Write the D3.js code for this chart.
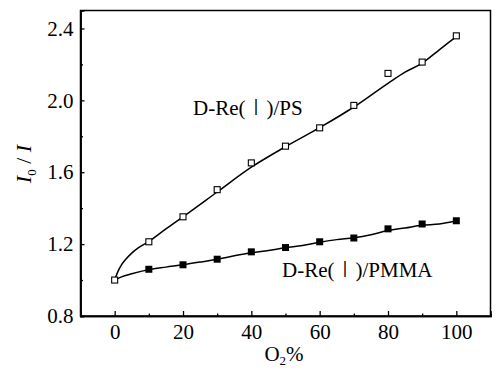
<!DOCTYPE html>
<html><head><meta charset="utf-8">
<script src="https://cdn.jsdelivr.net/npm/d3@7"></script>
<style>
html,body{margin:0;padding:0;background:#fff;}
svg{display:block;}
text{font-family:"Liberation Serif","Times New Roman",serif;fill:#000;}
</style></head>
<body>
<script>
// ---- data ----
const o2 = [0, 10, 20, 30, 40, 50, 60, 70, 80, 90, 100];
const psValues = [1.0, 1.213, 1.352, 1.503, 1.652, 1.745, 1.847, 1.972, 2.150, 2.213, 2.359];
const pmmaValues = [1.0, 1.060, 1.085, 1.116, 1.157, 1.181, 1.213, 1.234, 1.285, 1.312, 1.330];
const psFitX = [0, 1, 2, 3, 5, 7, 10, 15, 20, 30, 40, 50, 60, 70, 80, 85, 90, 95, 100];
const psFitY = [1.0, 1.05, 1.085, 1.11, 1.15, 1.18, 1.215, 1.285, 1.352, 1.49, 1.628, 1.742, 1.848, 1.963, 2.095, 2.157, 2.207, 2.281, 2.355];
const pmmaFitX = [0, 2, 5, 10, 15, 20, 25, 30, 35, 40, 45, 50, 55, 60, 65, 70, 75, 80, 85, 90, 95, 100];
const pmmaFitY = [1.0, 1.018, 1.035, 1.058, 1.072, 1.085, 1.1, 1.116, 1.135, 1.152, 1.165, 1.18, 1.192, 1.21, 1.225, 1.235, 1.252, 1.276, 1.29, 1.305, 1.312, 1.33];
const xTicks = [0, 20, 40, 60, 80, 100];
const xMinor = [10, 30, 50, 70, 90];
const yTicks = [0.8, 1.2, 1.6, 2.0, 2.4];
const yMinor = [1.0, 1.4, 1.8, 2.2];
const labelPS = "D-Re(Ⅰ)/PS";
const labelPMMA = "D-Re(Ⅰ)/PMMA";

const W = 497, H = 370;
const L = 80.5, R = 490.5, T = 10.5, B = 316;
const svg = d3.select("body").append("svg").attr("width", W).attr("height", H);
const x = d3.scaleLinear().domain([-10, 110]).range([L, R]);
const y = d3.scaleLinear().domain([0.8, 2.5]).range([B, T]);

// frame
svg.append("rect").attr("x", L).attr("y", T).attr("width", R - L).attr("height", B - T)
  .attr("fill", "none").attr("stroke", "#000").attr("stroke-width", 1.5);

// axes (ticks inward)
const xAxis = d3.axisBottom(x).tickValues(xTicks).tickSize(-5).tickPadding(8).tickFormat(d3.format("d"));
const gx = svg.append("g").attr("transform", `translate(0,${B})`).call(xAxis);
const gxm = svg.append("g").attr("transform", `translate(0,${B})`)
  .call(d3.axisBottom(x).tickValues(xMinor).tickSize(-2.5).tickFormat(""));
const yAxis = d3.axisLeft(y).tickValues(yTicks).tickSize(-4).tickPadding(7).tickFormat(d3.format(".1f"));
const gy = svg.append("g").attr("transform", `translate(${L},0)`).call(yAxis);
const gym = svg.append("g").attr("transform", `translate(${L},0)`)
  .call(d3.axisLeft(y).tickValues(yMinor).tickSize(-2.5).tickFormat(""));
[gx, gxm, gy, gym].forEach(g => {
  g.select(".domain").attr("stroke", "#000").attr("stroke-width", 1.5);
  g.selectAll(".tick line").attr("stroke", "#000").attr("stroke-width", 1.3);
  g.selectAll(".tick text").attr("font-size", 21).attr("fill", "#000");
});

// fit curves
const line = d3.line().x(d => x(d[0])).y(d => y(d[1])).curve(d3.curveMonotoneX);
svg.append("path").datum(psFitX.map((v, i) => [v, psFitY[i]]))
  .attr("d", line).attr("fill", "none").attr("stroke", "#000").attr("stroke-width", 1.5);
svg.append("path").datum(pmmaFitX.map((v, i) => [v, pmmaFitY[i]]))
  .attr("d", line).attr("fill", "none").attr("stroke", "#000").attr("stroke-width", 1.5);

// markers
const s = 7;
svg.append("g").selectAll("rect").data(o2.map((v, i) => [v, pmmaValues[i]]).slice(1)).join("rect")
  .attr("x", d => x(d[0]) - s / 2).attr("y", d => y(d[1]) - s / 2)
  .attr("width", s).attr("height", s).attr("fill", "#000");
svg.append("g").selectAll("rect").data(o2.map((v, i) => [v, psValues[i]])).join("rect")
  .attr("x", d => x(d[0]) - s / 2 + 0.5).attr("y", d => y(d[1]) - s / 2 + 0.5)
  .attr("width", s - 1).attr("height", s - 1).attr("fill", "#fff").attr("stroke", "#000").attr("stroke-width", 1.1);

// series labels
function seriesLabel(txt, px, py) {
  const t = svg.append("text").attr("x", px).attr("y", py).attr("font-size", 21);
  const parts = txt.split("Ⅰ");
  t.append("tspan").text(parts[0]);
  t.append("tspan").style("font-family", "'Noto Sans CJK SC'").attr("font-weight", 300).text("Ⅰ");
  t.append("tspan").text(parts[1]);
}
seriesLabel(labelPS, 193, 115);
seriesLabel(labelPMMA, 282, 277);

// x axis title O2%
const xt = svg.append("text").attr("x", 284).attr("y", 361).attr("text-anchor", "middle").attr("font-size", 21);
xt.append("tspan").text("O");
xt.append("tspan").attr("font-size", 13).attr("dy", 4).text("2");
xt.append("tspan").attr("dy", -4).text("%");

// y axis title I0 / I
const yt = svg.append("text").attr("transform", "translate(31,164) rotate(-90)")
  .attr("text-anchor", "middle").attr("font-size", 22);
yt.append("tspan").attr("font-style", "italic").text("I");
yt.append("tspan").attr("font-size", 13).attr("dy", 5).text("0");
yt.append("tspan").attr("dy", -5).text(" / ");
yt.append("tspan").attr("font-style", "italic").text("I");
</script>
</body></html>
